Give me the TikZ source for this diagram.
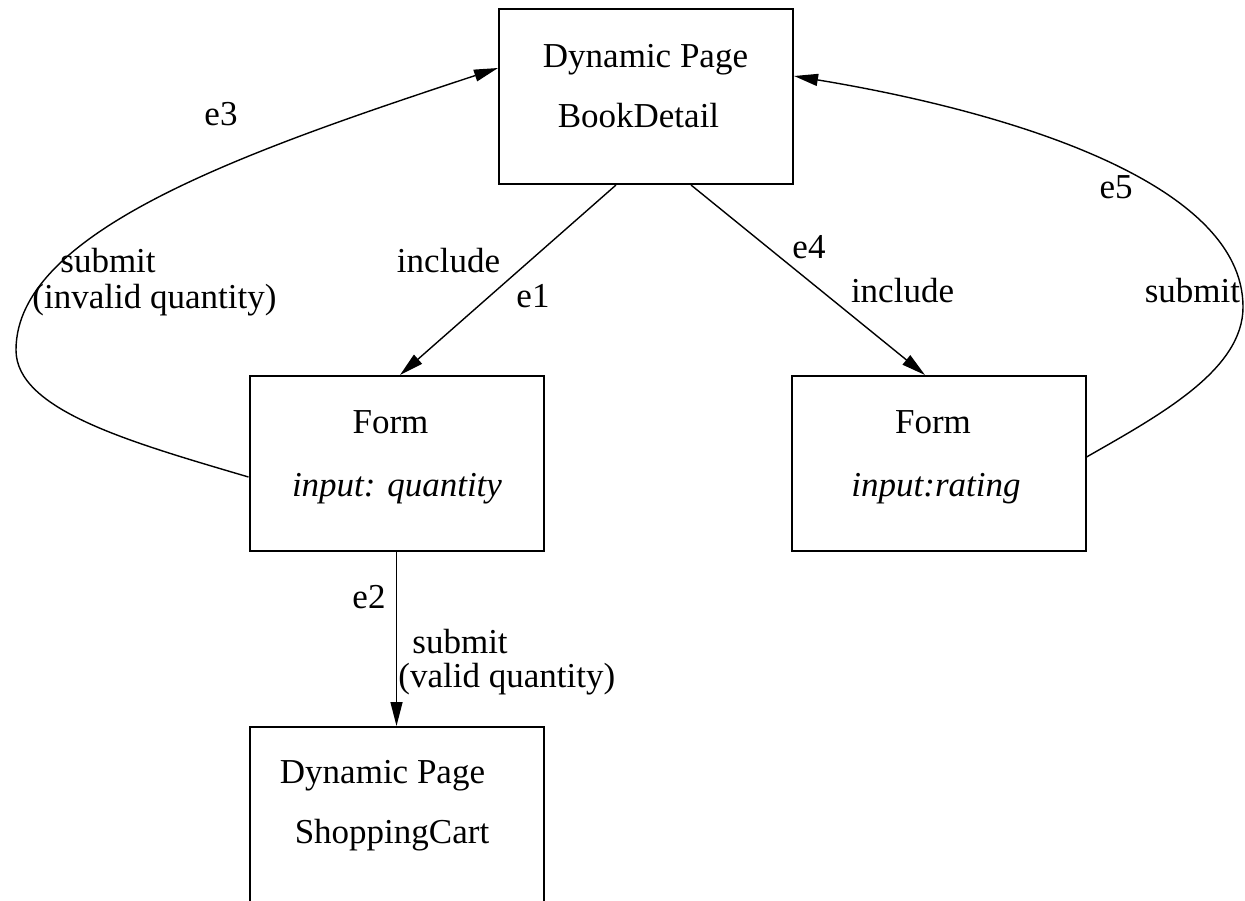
\documentclass[tikz,border=0pt]{standalone}
\usepackage{fontspec}
\setmainfont{Liberation Serif}
\usetikzlibrary{arrows.meta}
\begin{document}
\begin{tikzpicture}[x=0.5pt,y=-0.5pt,
  box/.style={draw,line width=1pt,minimum width=147pt,inner sep=0pt},
  txt/.style={anchor=base,inner sep=0pt,font=\fontsize{17.5}{21}\selectfont},
  lbl/.style={anchor=base,inner sep=0pt,font=\fontsize{17.5}{21}\selectfont},
  lblw/.style={anchor=base west,inner sep=0pt,font=\fontsize{17.5}{21}\selectfont},
  conn/.style={line width=0.7pt,-{Triangle[length=12pt,width=6pt]}}]
\useasboundingbox (0,0) rectangle (1245,900);
% boxes
\node[box,minimum height=87.5pt] (bd) at (646,96.5) {};
\node[box,minimum height=87.5pt] (fq) at (396.5,463.5) {};
\node[box,minimum height=87.5pt] (fr) at (938.5,463.5) {};
\node[box,minimum height=95pt] (sc) at (396.5,822) {};
% box texts
\node[txt] (bdt1) at (645.5,67) {Dynamic Page};
\node[txt] (bdt2) at (638.5,127) {BookDetail};
\node[txt] (fqt1) at (390.5,433) {Form};
\node[txt] (fqt2) at (397,496) {\itshape input: quantity};
\node[txt] (frt1) at (933,433) {Form};
\node[txt] (frt2) at (936,496) {\itshape input:rating};
\node[txt] (sct1) at (382.5,783) {Dynamic Page};
\node[txt] (sct2) at (392,843) {ShoppingCart};
% connectors
\draw[conn] ([xshift=-15pt]bd.south) -- ([xshift=1.75pt]fq.north);
\draw[conn] ([xshift=22.5pt]bd.south) -- ([xshift=-6.75pt]fr.north);
\draw[conn] (fq.south) -- (sc.north);
\coordinate (e3mid) at (16,350);
\coordinate (e5mid) at (1243,307);
\draw[conn] ([yshift=-6.75pt]fq.west) .. controls (130,442) and (16,410) .. (e3mid)
  .. controls (16,230) and (250,150) .. ([yshift=14.25pt]bd.west);
\draw[conn] ([yshift=3.25pt]fr.east) .. controls (1160,415) and (1243,370) .. (e5mid)
  .. controls (1243,180) and (1000,110) .. ([yshift=10.25pt]bd.east);
% labels
\node[lbl] (le3) at (221,125) {e3};
\node[lblw] (ls3a) at (60,272) {submit};
\node[lblw] (ls3b) at (32,308) {(invalid quantity)};
\node[lbl] (li1) at (448.5,272) {include};
\node[lbl] (le1) at (533,307) {e1};
\node[lbl] (le4) at (809,258) {e4};
\node[lbl] (li4) at (902.5,302) {include};
\node[lbl] (le5) at (1116,198) {e5};
\node[lbl] (ls5) at (1192.5,302) {submit};
\node[lbl] (le2) at (369,608) {e2};
\node[lblw] (ls2a) at (412,653) {submit};
\node[lblw] (ls2b) at (398,687) {(valid quantity)};
\end{tikzpicture}
\end{document}
